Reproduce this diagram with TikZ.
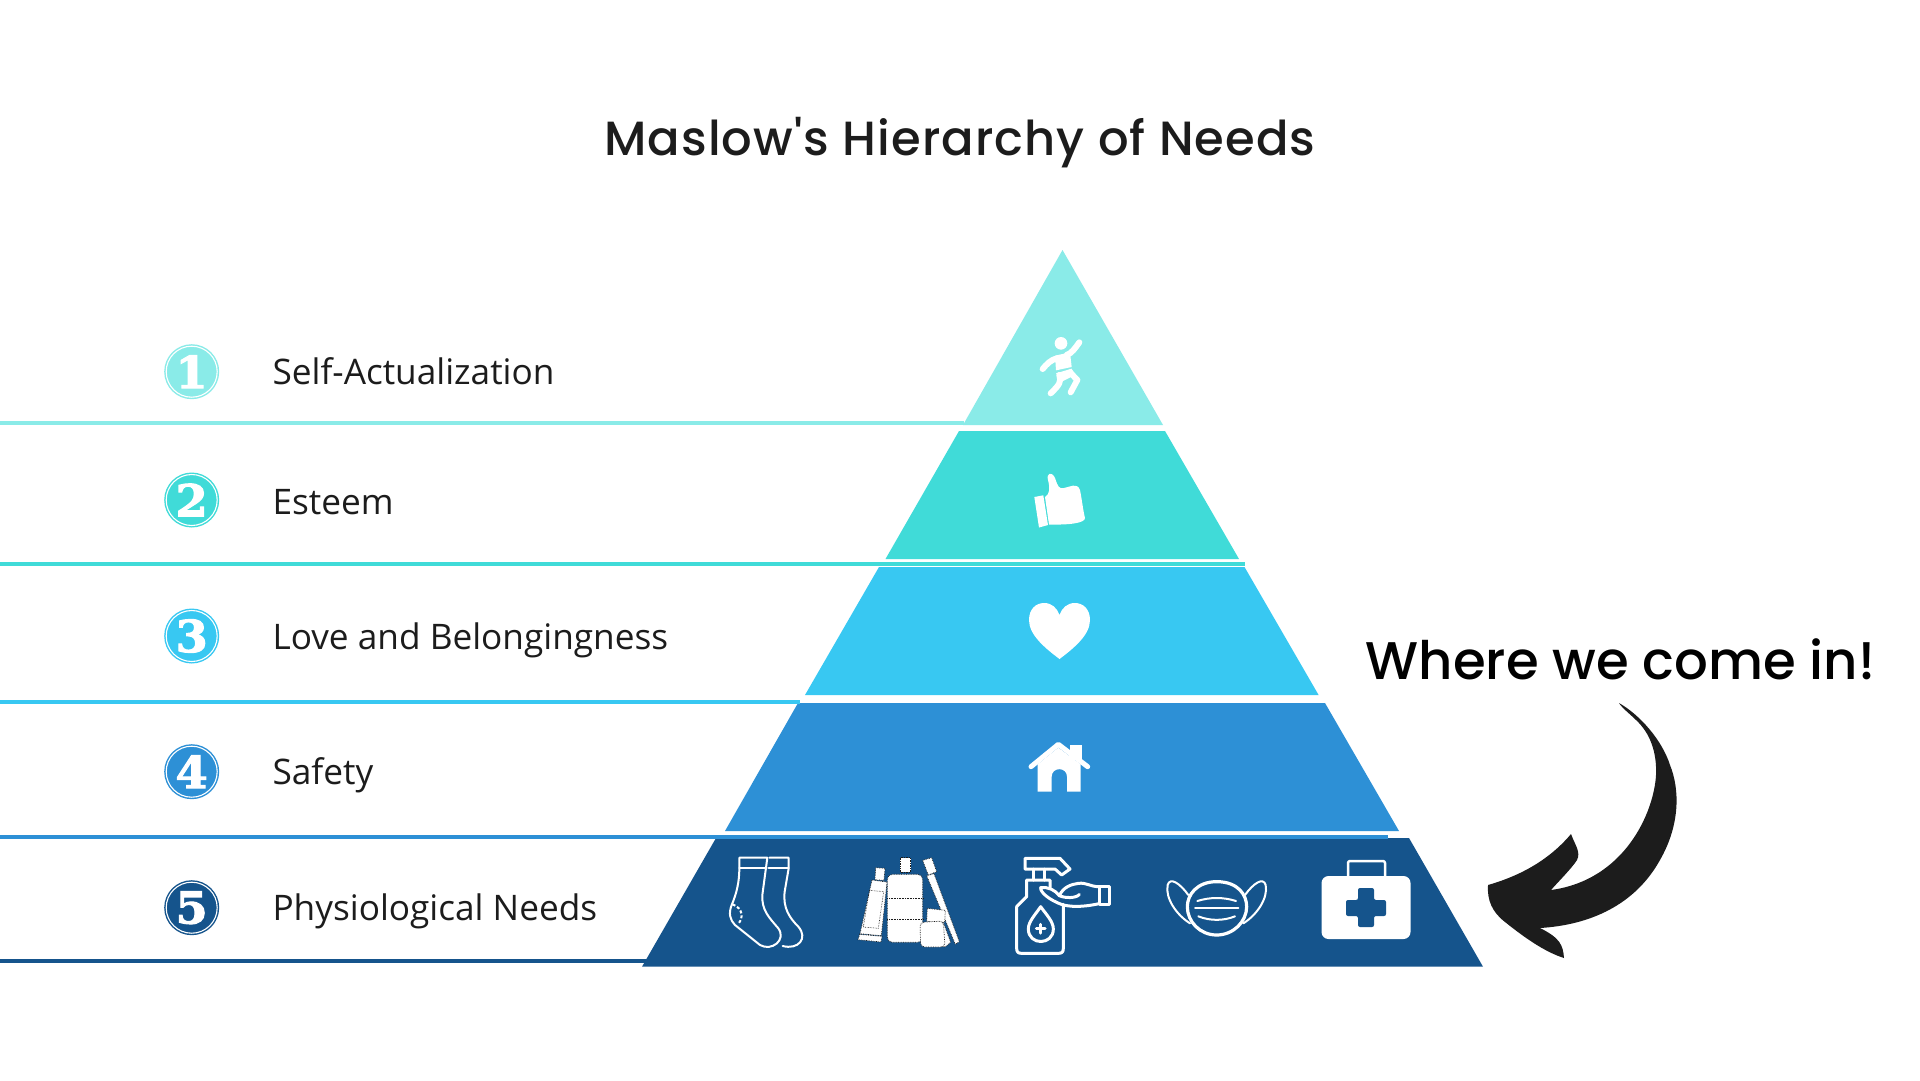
\documentclass[tikz,border=0pt]{standalone}
\usepackage{fontspec}
\setmainfont{Open Sans}
\newfontfamily\headfont[UprightFont={* Medium}]{Poppins}
\newfontfamily\titlefont[UprightFont={* Medium},LetterSpace=2.2]{Poppins}
\newfontfamily\numfont[UprightFont={* Bold},FakeBold=2.5,FakeStretch=1.05]{DejaVu Serif}
\definecolor{tealA}{HTML}{8AEBE8}
\definecolor{tealB}{HTML}{40DBD8}
\definecolor{skyC}{HTML}{38C8F2}
\definecolor{blueD}{HTML}{2D90D6}
\definecolor{navyE}{HTML}{15548C}
\definecolor{inkK}{HTML}{1C1C1C}
\tikzset{
  needlabel/.style={anchor=base west, text=inkK, font=\fontsize{35.2}{40}\selectfont},
  badge/.style={circle, inner sep=0pt, minimum size=55pt, text=white, font=\numfont\fontsize{44}{46}\selectfont},
  ring/.style={draw=white, line width=1.1pt, fill=none},
  wire/.style={draw=white, line width=2pt, fill=none, line join=round, line cap=round},
  bold wire/.style={wire, line width=3pt},
  limb/.style={wire, line width=6pt},
  dotted edge/.style={fill=white, draw=inkK, line width=0.7pt, densely dotted}
}
\begin{document}
\begin{tikzpicture}[x=1pt,y=-1pt]
  \useasboundingbox (0,0) rectangle (1920,1080);
  \fill[white] (0,0) rectangle (1920,1080);

  % title
  \node[anchor=base, font=\titlefont\fontsize{48}{56}\selectfont, text=inkK] (title) at (960,155) {Maslow's Hierarchy of Needs};
  \node[anchor=base, font=\headfont\fontsize{53}{60}\selectfont, text=black] (where) at (1620.5,679) {Where we come in!};

  % pyramid
  \fill[tealA] (1062.5,250) -- (1163,425) -- (963,425) -- cycle;
  \fill[tealB] (959,431) -- (1165,431) -- (1239,559) -- (885.5,559) -- cycle;
  \fill[skyC] (879,567) -- (1244.5,567) -- (1318.6,695) -- (805,695) -- cycle;
  \fill[blueD] (798,703) -- (1325,703) -- (1399,831) -- (725,831) -- cycle;
  \fill[navyE] (716,838) -- (1409,838) -- (1483,966.7) -- (642,966.7) -- cycle;

  % lines
  \fill[tealA] (0,421) rectangle (964,425);
  \fill[tealB] (0,562.3) rectangle (1245,566);
  \fill[skyC] (0,700.3) rectangle (800,704);
  \fill[blueD] (0,835.3) rectangle (1388,839);
  \fill[navyE] (0,959) rectangle (650,962.5);

  % badges
  \node[badge, fill=tealA] (b1) at (191.7,371.7) {1};
  \node[badge, fill=tealB] (b2) at (191.7,500) {2};
  \node[badge, fill=skyC] (b3) at (191.7,636) {3};
  \node[badge, fill=blueD] (b4) at (191.7,771.7) {4};
  \node[badge, fill=navyE] (b5) at (191.7,907.7) {5};
  \foreach \yy in {371.7,500,636,771.7,907.7}
    \draw[ring] (191.7,\yy) circle[radius=25.5];

  % labels
  \node[needlabel] (l1) at (269,384.5) {Self-Actualization};
  \node[needlabel] (l2) at (269,514) {Esteem};
  \node[needlabel] (l3) at (269,649.5) {Love and Belongingness};
  \node[needlabel] (l4) at (269,784.5) {Safety};
  \node[needlabel] (l5) at (269,920.5) {Physiological Needs};

  % arrow
  \fill[inkK] (1619,703) .. controls (1622,708) and (1630,714) .. (1636,720)
    .. controls (1650,733) and (1657,752) .. (1656,775)
    .. controls (1654,812) and (1625,880) .. (1551,890)
    .. controls (1558,882) and (1572,868) .. (1577,860)
    .. controls (1581,852) and (1575,845) .. (1571,834)
    .. controls (1555,853) and (1530,873) .. (1488,885)
    .. controls (1487,900) and (1492,912) .. (1505,922)
    .. controls (1525,938) and (1545,952) .. (1564,958)
    .. controls (1563,945) and (1560,938) .. (1540,928)
    .. controls (1590,925) and (1635,905) .. (1660,860)
    .. controls (1680,825) and (1680,790) .. (1670,765)
    .. controls (1662,740) and (1640,715) .. (1619,703) -- cycle;

  % runner
  \begin{scope}[shift={(1020,325)},scale=1/3]
    \fill[white] (123,55) circle[radius=19];
    \fill[white] (105,92) -- (150,82) -- (155,126) -- (108,136) -- cycle;
    \draw[limb] (68,132) .. controls (80,118) and (90,105) .. (112,100);
    \draw[limb] (140,90) .. controls (155,85) and (165,70) .. (178,52);
    \fill[white] (108,145) -- (155,131) -- (165,150) -- (125,170) -- cycle;
    \draw[limb] (118,150) .. controls (125,170) and (118,180) .. (92,205);
    \draw[limb] (150,142) -- (172,165) -- (152,202);
  \end{scope}

  % thumb
  \fill[white] (1034.3,497) -- (1043.3,495.3) -- (1048,525) -- (1039,527.5) -- cycle;
  \fill[white] (1045,497) .. controls (1050,494) and (1050,488) .. (1048,480)
    .. controls (1046,473) and (1052,471) .. (1055,478)
    .. controls (1058,487) and (1059,489) .. (1064,488)
    .. controls (1070,487) and (1077,482) .. (1080,490)
    .. controls (1082,500) and (1083,510) .. (1085,518)
    .. controls (1085,523) and (1070,525) .. (1049,524.5) -- cycle;

  % heart
  \fill[white] (1059.5,659) .. controls (1045,648) and (1029,635) .. (1029,620)
    .. controls (1029,609) and (1036,603) .. (1044,603)
    .. controls (1052,603) and (1057,608) .. (1059.5,615)
    .. controls (1062,608) and (1067,603) .. (1075,603)
    .. controls (1083,603) and (1090,609) .. (1090,620)
    .. controls (1090,635) and (1074,648) .. (1059.5,659) -- cycle;

  % house
  \begin{scope}[shift={(1015,735)},scale=1/3]
    \fill[white] (165,30) rectangle (202,75);
    \fill[white] (68,88) -- (130,38) -- (197,88) -- (197,170) -- (156,170) -- (156,125)
      .. controls (156,95) and (110,95) .. (110,125) -- (110,170) -- (68,170) -- cycle;
    \draw[wire, line width=5pt] (48,95) -- (130,28) -- (218,95);
  \end{scope}

  % socks
  \begin{scope}[shift={(710,845)},scale=1/3]
    \draw[wire] (172,38) -- (88,38) -- (88,70) .. controls (88,110) and (80,145) .. (65,180)
      .. controls (55,205) and (60,225) .. (75,240) -- (150,300)
      .. controls (185,320) and (230,285) .. (205,250)
      .. controls (175,215) and (155,195) .. (157,150) -- (172,38);
    \draw[wire] (178,38) -- (236,38) -- (236,70) -- (224,140)
      .. controls (218,190) and (240,220) .. (265,245)
      .. controls (295,280) and (265,315) .. (218,303);
    \draw[wire] (88,70) -- (170,70);
    \draw[wire] (176,70) -- (236,70);
    \draw[wire, densely dashed, line cap=butt] (68,178) .. controls (100,190) and (100,220) .. (85,236);

    % toothpaste
    \filldraw[dotted edge] (497,68) -- (525,70) -- (522,106) -- (495,104) -- cycle;
    \filldraw[dotted edge] (486,105) -- (531,111) -- (514,272) -- (450,266) -- cycle;
    \filldraw[dotted edge] (449,268) -- (516,274) -- (513,291) -- (444,284) -- cycle;
    \draw[inkK, line width=0.6pt, densely dotted] (478,136) -- (521,140) -- (505,250) -- (460,246) -- cycle;
    % bottle
    \filldraw[dotted edge] (570,38) rectangle (602,82);
    \filldraw[dotted edge, rounded corners=5pt] (532,88) rectangle (638,292);
    \draw[inkK, line width=0.6pt, densely dotted] (532,160) -- (638,160);
    \draw[inkK, line width=0.6pt, densely dotted] (532,224) -- (638,224);
    % toothbrush
    \filldraw[dotted edge] (650,92) -- (672,86) -- (748,290) -- (736,298) -- cycle;
    \filldraw[dotted edge] (638,46) -- (665,38) -- (680,80) -- (655,90) -- cycle;
    % floss
    \filldraw[dotted edge] (700,232) -- (722,292) -- (705,306) -- (680,300) -- cycle;
    \filldraw[dotted edge] (652,190) -- (706,196) -- (704,232) -- (650,230) -- cycle;
    \filldraw[dotted edge, rounded corners=4pt] (630,232) -- (700,228) -- (705,306) -- (632,306) -- cycle;
  \end{scope}

  % spray and mask
  \begin{scope}[shift={(1000,845)},scale=1/3]
    \draw[bold wire] (75,40) -- (180,40) -- (210,72) -- (185,90) -- (165,72) -- (75,72) -- cycle;
    \draw[bold wire] (100,72) -- (100,105);
    \draw[bold wire] (133,72) -- (133,105);
    \draw[bold wire] (150,128) -- (150,105) -- (80,105) -- (80,155) -- (50,185) -- (50,310)
      .. controls (50,322) and (55,325) .. (65,325) -- (175,325)
      .. controls (185,325) and (190,322) .. (190,310) -- (190,178);
    \draw[bold wire] (297,125) rectangle (328,178);
    \draw[bold wire] (297,125) .. controls (270,125) and (260,112) .. (235,115)
      .. controls (215,118) and (190,125) .. (178,152)
      .. controls (195,160) and (230,160) .. (238,148);
    \draw[bold wire] (178,152) .. controls (165,135) and (145,125) .. (122,128)
      .. controls (120,140) and (145,165) .. (190,180)
      .. controls (225,188) and (265,183) .. (297,176);
    \draw[bold wire] (122,185) .. controls (105,210) and (85,230) .. (85,252)
      .. controls (85,302) and (160,302) .. (160,252)
      .. controls (160,230) and (140,210) .. (122,185) -- cycle;
    \draw[bold wire] (122,238) -- (122,264);
    \draw[bold wire] (109,251) -- (135,251);
    % mask
    \draw[wire, line width=3.2pt] (650,110) .. controls (715,110) and (740,150) .. (740,185)
      .. controls (740,230) and (700,270) .. (650,270)
      .. controls (600,270) and (562,230) .. (562,185)
      .. controls (562,150) and (590,110) .. (650,110) -- cycle;
    \draw[wire] (565,150) .. controls (540,115) and (510,95) .. (503,120)
      .. controls (495,160) and (530,210) .. (570,235);
    \draw[wire] (735,150) .. controls (760,115) and (790,95) .. (797,120)
      .. controls (805,160) and (770,210) .. (730,235);
    \draw[wire] (592,168) .. controls (630,156) and (670,156) .. (708,168);
    \draw[wire] (585,190) -- (715,190);
    \draw[wire] (595,214) .. controls (630,228) and (670,228) .. (705,214);
  \end{scope}

  % first aid kit
  \draw[wire, line width=2.5pt, rounded corners=2pt] (1348,878) -- (1348,861) -- (1385,861) -- (1385,878);
  \fill[white, rounded corners=7pt] (1321.5,876) rectangle (1410.5,939);
  \fill[navyE, rounded corners=2pt] (1358,888) -- (1374,888) -- (1374,900) -- (1386,900) -- (1386,916)
    -- (1374,916) -- (1374,927) -- (1358,927) -- (1358,916) -- (1346,916) -- (1346,900) -- (1358,900) -- cycle;
\end{tikzpicture}
\end{document}
